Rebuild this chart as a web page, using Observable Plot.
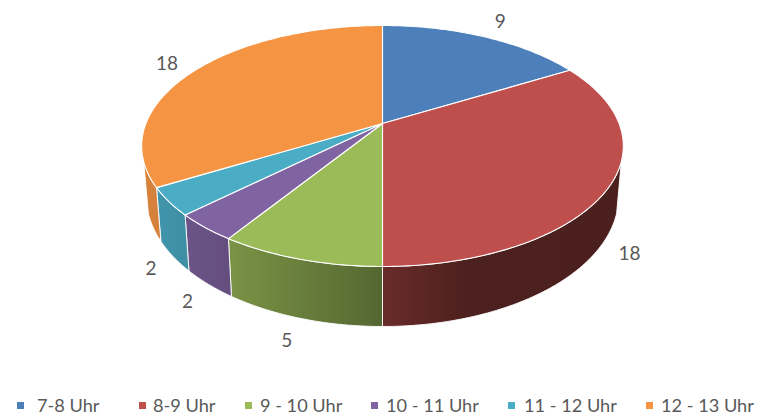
<!DOCTYPE html>
<html>
<head>
<meta charset="utf-8">
<script src="https://cdn.jsdelivr.net/npm/d3@7"></script>
<script src="https://cdn.jsdelivr.net/npm/@observablehq/plot@0.6"></script>
<style>
  html, body { margin: 0; padding: 0; background: #fff; overflow: hidden; }
  #legend { position: relative; height: 26px; width: 760px; font: 18.2px Lato, sans-serif; color: #595959; }
  #legend i { position: absolute; top: 12px; width: 7px; height: 7px; }
  #legend span { position: absolute; top: 4px; white-space: nowrap; line-height: 22px; }
</style>
</head>
<body>
<div id="chart"></div>
<div id="legend"></div>
<script>
const categories = ["7-8 Uhr", "8-9 Uhr", "9 - 10 Uhr", "10 - 11 Uhr", "11 - 12 Uhr", "12 - 13 Uhr"];
const counts = [9, 18, 5, 2, 2, 18];
const colors = ["#4d7fbb", "#be4f4c", "#9bbb59", "#8064a2", "#4bacc6", "#f59544"];

// Layout: perspective projection of the pie's top and bottom discs
const W = 760, H = 390;
const cx = 382, tilt = 0.1867;
const topDisc = {apex: 123, d: 236.6, a: 116.3};
const bottomDisc = {apex: 171.7, d: 232, a: 125.5};
const wallRange = [108, 252];
const labelNudge = [[16, -15], [21, 66], [-13, 82], [-17.5, 74], [-18, 67], [-28, -6]];
const legendPos = [[17, 37], [139, 153], [245, 260], [371, 386], [508, 524], [646, 661]];
const shade = [[145, .88], [231, .78], [382, .55], [470, .40], [760, .39]];

function project(deg, disc) {
  const t = deg * Math.PI / 180, u = Math.sin(t), v = Math.cos(t), k = 1 + tilt * v;
  return {x: cx + disc.d * u / k, y: disc.apex - disc.a * v / k};
}
function arc(a0, a1) {
  const n = Math.max(1, Math.ceil(Math.abs(a1 - a0)));
  return d3.range(n + 1).map(i => a0 + (a1 - a0) * i / n);
}

const total = d3.sum(counts);
const cum = d3.cumsum(counts);
const slices = counts.map((c, i) => ({
  i, a0: (cum[i] - c) / total * 360, a1: cum[i] / total * 360, mid: (cum[i] - c / 2) / total * 360
}));

const apexPoint = {x: cx, y: topDisc.apex};
const topMarks = slices.map(s => {
  const pts = [apexPoint, ...arc(s.a0, s.a1).map(a => project(a, topDisc)), apexPoint];
  return Plot.line(pts, {x: "x", y: "y", fill: colors[s.i], stroke: "#fff", strokeWidth: 1.1, strokeLinejoin: "round"});
});

const wallMarks = slices.flatMap(s => {
  const a0 = Math.max(s.a0, wallRange[0]), a1 = Math.min(s.a1, wallRange[1]);
  if (a1 <= a0) return [];
  const angles = arc(a0, a1);
  const pts = [...angles.map(a => project(a, topDisc)), ...angles.slice().reverse().map(a => project(a, bottomDisc))];
  pts.push(pts[0]);
  return [Plot.line(pts, {x: "x", y: "y", fill: `url(#wall${s.i})`, stroke: "#fff", strokeWidth: 0.9, strokeLinejoin: "round"})];
});

function gradients() {
  const defs = d3.create("svg:defs");
  slices.forEach(s => {
    const g = defs.append("linearGradient").attr("id", `wall${s.i}`)
      .attr("gradientUnits", "userSpaceOnUse")
      .attr("x1", shade[0][0]).attr("x2", shade[shade.length - 1][0]).attr("y1", 0).attr("y2", 0);
    const base = d3.rgb(colors[s.i]);
    const span = shade[shade.length - 1][0] - shade[0][0];
    shade.forEach(([x, f]) => {
      g.append("stop").attr("offset", (x - shade[0][0]) / span)
        .attr("stop-color", d3.rgb(base.r * f, base.g * f, base.b * f).formatHex());
    });
  });
  return defs.node();
}

const labels = slices.map(s => {
  const p = project(s.mid, topDisc);
  return {x: p.x + labelNudge[s.i][0], y: p.y + labelNudge[s.i][1], text: String(counts[s.i])};
});

const chart = Plot.plot({
  width: W, height: H,
  margin: 0,
  style: {background: "#fff", overflow: "visible"},
  x: {domain: [0, W], range: [0, W], axis: null},
  y: {domain: [0, H], range: [0, H], axis: null},
  marks: [
    gradients,
    ...wallMarks,
    ...topMarks,
    Plot.text(labels, {x: "x", y: "y", text: "text", fill: "#595959", fontSize: 19, fontFamily: "Lato, sans-serif"})
  ]
});
document.getElementById("chart").appendChild(chart);
chart.style.display = "block";

const legend = d3.select("#legend");
categories.forEach((c, i) => {
  legend.append("i").style("left", legendPos[i][0] + "px").style("background", colors[i]);
  legend.append("span").style("left", legendPos[i][1] + "px").text(c);
});
</script>
</body>
</html>
